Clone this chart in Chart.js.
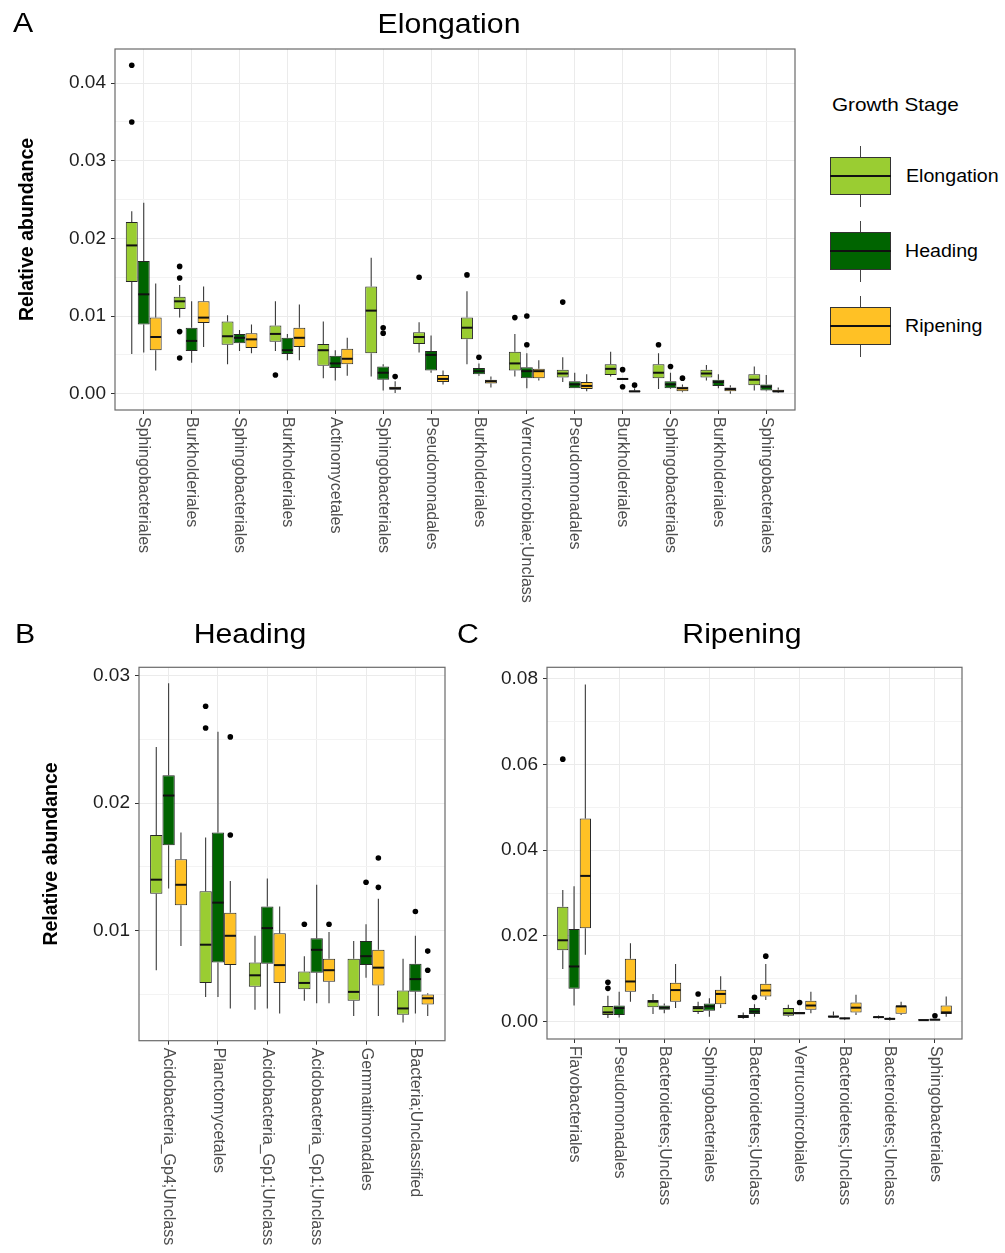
<!DOCTYPE html>
<html>
<head>
<meta charset="utf-8">
<script src="https://cdn.jsdelivr.net/npm/chart.js@4.4.1/dist/chart.umd.min.js"></script>
<style>
html, body { margin: 0; padding: 0; background: #fff; }
#page { position: relative; width: 1005px; height: 1253px; overflow: hidden; font-family: 'Liberation Sans', Arial, sans-serif; color: #000; background: #fff; }
canvas { position: absolute; }
.t { position: absolute; white-space: nowrap; line-height: 1; }
.c { text-align: center; width: 400px; transform: scaleX(1.12); transform-origin: center top; }
.l { transform: scaleX(1.12); transform-origin: left top; }
.key { position: absolute; box-sizing: border-box; }
</style>
</head>
<body>
<div id="page">
  <canvas id="cA" width="810" height="615" style="left:0px;top:0px;width:810px;height:615px"></canvas>
  <canvas id="cB" width="460" height="638" style="left:0px;top:615px;width:460px;height:638px"></canvas>
  <canvas id="cC" width="545" height="638" style="left:460px;top:615px;width:545px;height:638px"></canvas>

  <div class="t l" style="left:13px;top:10.1px;font-size:27px">A</div>
  <div class="t c" style="left:248.5px;top:10.6px;font-size:27px">Elongation</div>
  <div class="t l" style="left:15px;top:620.6px;font-size:27px">B</div>
  <div class="t c" style="left:49.5px;top:621px;font-size:27px">Heading</div>
  <div class="t l" style="left:457px;top:620.6px;font-size:27px">C</div>
  <div class="t c" style="left:542px;top:621px;font-size:27px">Ripening</div>

  <div class="t l" style="left:832px;top:96.3px;font-size:18.5px">Growth Stage</div>
  <div id="legend"></div>
</div>
<script>
const FONT = "'Liberation Sans', Arial, sans-serif";
const STAGES = ["Elongation", "Heading", "Ripening"];
const STAGE_COLORS = ["#9ACD32", "#006400", "#FFC125"];

// Each box: [lower whisker, Q1, median, Q3, upper whisker]
// ---------- Panel A : Elongation ----------
const categoriesA = ["Sphingobacteriales", "Burkholderiales", "Sphingobacteriales", "Burkholderiales",
  "Actinomycetales", "Sphingobacteriales", "Pseudomonadales", "Burkholderiales",
  "Verrucomicrobiae;Unclass", "Pseudomonadales", "Burkholderiales", "Sphingobacteriales",
  "Burkholderiales", "Sphingobacteriales"];
const elongationA = [
  [0.0051, 0.0144, 0.0191, 0.0221, 0.0235], [0.0098, 0.0109, 0.0119, 0.0125, 0.0140],
  [0.0038, 0.0063, 0.0074, 0.0093, 0.0101], [0.0055, 0.0067, 0.0077, 0.0088, 0.0119],
  [0.0020, 0.0036, 0.0056, 0.0064, 0.0093], [0.0022, 0.0052, 0.0107, 0.0138, 0.0175],
  [0.0053, 0.0064, 0.0073, 0.0079, 0.0092], [0.0038, 0.0070, 0.0085, 0.0098, 0.0132],
  [0.0022, 0.0030, 0.0039, 0.0054, 0.0077], [0.0015, 0.0021, 0.0026, 0.0031, 0.0047],
  [0.0022, 0.0024, 0.0032, 0.0038, 0.0054], [0.0006, 0.0020, 0.0027, 0.0038, 0.0052],
  [0.0017, 0.0021, 0.0026, 0.0031, 0.0037], [0.0004, 0.0011, 0.0018, 0.0025, 0.0035]];
const headingA = [
  [0.0053, 0.0089, 0.0128, 0.0171, 0.0246], [0.0040, 0.0055, 0.0068, 0.0085, 0.0119],
  [0.0055, 0.0065, 0.0072, 0.0077, 0.0082], [0.0043, 0.0051, 0.0056, 0.0072, 0.0077],
  [0.0017, 0.0033, 0.0039, 0.0049, 0.0056], [0.0004, 0.0018, 0.0027, 0.0035, 0.0038],
  [0.0027, 0.0030, 0.0050, 0.0055, 0.0075], [0.0023, 0.0025, 0.0029, 0.0033, 0.0039],
  [0.0007, 0.0020, 0.0029, 0.0034, 0.0052], [0.0007, 0.0007, 0.0012, 0.0016, 0.0027],
  [0.0018, 0.0018, 0.0019, 0.0020, 0.0020], [0.0006, 0.0007, 0.0012, 0.0016, 0.0027],
  [0.0007, 0.0010, 0.0015, 0.0018, 0.0025], [0.0003, 0.0004, 0.0009, 0.0012, 0.0024]];
const ripeningA = [
  [0.0030, 0.0056, 0.0073, 0.0098, 0.0142], [0.0060, 0.0091, 0.0098, 0.0119, 0.0138],
  [0.0052, 0.0059, 0.0070, 0.0078, 0.0089], [0.0043, 0.0060, 0.0072, 0.0085, 0.0115],
  [0.0023, 0.0038, 0.0045, 0.0058, 0.0072], [0.0001, 0.0005, 0.0007, 0.0009, 0.0016],
  [0.0012, 0.0015, 0.0019, 0.0024, 0.0030], [0.0008, 0.0013, 0.0016, 0.0018, 0.0022],
  [0.0017, 0.0020, 0.0029, 0.0032, 0.0043], [0.0003, 0.0006, 0.0010, 0.0015, 0.0025],
  [0.0002, 0.0002, 0.0003, 0.0004, 0.0007], [0.0002, 0.0003, 0.0007, 0.0009, 0.0012],
  [0.0000, 0.0003, 0.0006, 0.0008, 0.0011], [0.0001, 0.0002, 0.0003, 0.0005, 0.0008]];
const outElongationA = [[0.0423, 0.0350], [0.0164, 0.0149, 0.0080, 0.0046], [], [0.0024], [], [],
  [0.0150], [0.0153], [0.0098], [0.0118], [], [0.0063], [], []];
const outHeadingA = [[], [], [], [], [], [0.0085, 0.0078], [], [0.0047], [0.0100, 0.0063], [],
  [0.0031, 0.0009], [0.0035], [], []];
const outRipeningA = [[], [], [], [], [], [0.0022], [], [], [], [], [0.0011], [0.0020], [], []];
const yMajorA = [0.00, 0.01, 0.02, 0.03, 0.04];
const yMinorA = [0.005, 0.015, 0.025, 0.035];
const yRangeA = [-0.0021, 0.0444];

// ---------- Panel B : Heading ----------
const categoriesB = ["Acidobacteria_Gp4;Unclass", "Planctomycetales", "Acidobacteria_Gp1;Unclass",
  "Acidobacteria_Gp1;Unclass", "Gemmatimonadales", "Bacteria;Unclassified"];
const elongationB = [
  [0.0069, 0.0129, 0.0140, 0.0175, 0.0244], [0.0048, 0.0059, 0.0089, 0.0131, 0.0173],
  [0.0038, 0.0056, 0.0065, 0.0075, 0.0096], [0.0045, 0.0054, 0.0059, 0.0068, 0.0080],
  [0.0033, 0.0045, 0.0052, 0.0078, 0.0092], [0.0028, 0.0034, 0.0039, 0.0053, 0.0078]];
const headingB = [
  [0.0133, 0.0167, 0.0206, 0.0222, 0.0294], [0.0048, 0.0075, 0.0122, 0.0177, 0.0256],
  [0.0039, 0.0074, 0.0102, 0.0119, 0.0141], [0.0043, 0.0067, 0.0085, 0.0094, 0.0136],
  [0.0063, 0.0073, 0.0080, 0.0092, 0.0105], [0.0035, 0.0052, 0.0062, 0.0074, 0.0096]];
const ripeningB = [
  [0.0088, 0.0120, 0.0136, 0.0156, 0.0177], [0.0039, 0.0073, 0.0096, 0.0114, 0.0139],
  [0.0035, 0.0059, 0.0073, 0.0098, 0.0119], [0.0043, 0.0060, 0.0069, 0.0078, 0.0099],
  [0.0033, 0.0057, 0.0071, 0.0085, 0.0125], [0.0033, 0.0042, 0.0047, 0.0050, 0.0051]];
const outElongationB = [[], [0.0276, 0.0259], [], [0.0105], [], []];
const outHeadingB = [[], [], [], [], [0.0138], [0.0115]];
const outRipeningB = [[], [0.0252, 0.0175], [], [0.0105], [0.0157, 0.0134], [0.0084, 0.0069]];
const yMajorB = [0.01, 0.02, 0.03];
const yMinorB = [0.005, 0.015, 0.025];
const yRangeB = [0.00137, 0.03066];

// ---------- Panel C : Ripening ----------
const categoriesC = ["Flavobacteriales", "Pseudomonadales", "Bacteroidetes;Unclass", "Sphingobacteriales",
  "Bacteroidetes;Unclass", "Verrucomicrobiales", "Bacteroidetes;Unclass", "Bacteroidetes;Unclass",
  "Sphingobacteriales"];
const elongationC = [
  [0.0123, 0.0167, 0.0190, 0.0268, 0.0307], [0.0009, 0.0016, 0.0022, 0.0037, 0.0061],
  [0.0018, 0.0034, 0.0047, 0.0051, 0.0065], [0.0018, 0.0023, 0.0032, 0.0037, 0.0047],
  [0.0007, 0.0009, 0.0012, 0.0016, 0.0022], [0.0012, 0.0014, 0.0020, 0.0032, 0.0040],
  [0.0009, 0.0010, 0.0012, 0.0015, 0.0024], [0.0008, 0.0009, 0.0011, 0.0013, 0.0015],
  [0.0002, 0.0003, 0.0004, 0.0006, 0.0006]];
const headingC = [
  [0.0038, 0.0077, 0.0129, 0.0216, 0.0316], [0.0010, 0.0016, 0.0032, 0.0038, 0.0070],
  [0.0020, 0.0028, 0.0033, 0.0038, 0.0043], [0.0012, 0.0026, 0.0036, 0.0043, 0.0055],
  [0.0012, 0.0018, 0.0024, 0.0032, 0.0041], [0.0018, 0.0018, 0.0020, 0.0023, 0.0023],
  [0.0005, 0.0007, 0.0008, 0.0010, 0.0011], [0.0003, 0.0005, 0.0007, 0.0009, 0.0011],
  [0.0003, 0.0003, 0.0005, 0.0006, 0.0006]];
const ripeningC = [
  [0.0156, 0.0218, 0.0340, 0.0474, 0.0786], [0.0047, 0.0070, 0.0094, 0.0147, 0.0183],
  [0.0032, 0.0047, 0.0074, 0.0091, 0.0135], [0.0032, 0.0041, 0.0065, 0.0075, 0.0106],
  [0.0051, 0.0059, 0.0073, 0.0089, 0.0135], [0.0020, 0.0028, 0.0038, 0.0049, 0.0070],
  [0.0016, 0.0022, 0.0033, 0.0045, 0.0063], [0.0016, 0.0019, 0.0036, 0.0038, 0.0047],
  [0.0012, 0.0018, 0.0022, 0.0038, 0.0059]];
const outElongationC = [[0.0612], [0.0092, 0.0078], [], [0.0065], [], [], [], [], []];
const outHeadingC = [[], [], [], [], [0.0057], [0.0045], [], [], [0.0014]];
const outRipeningC = [[], [], [], [], [0.0153], [], [], [], []];
const yMajorC = [0.00, 0.02, 0.04, 0.06, 0.08];
const yMinorC = [0.01, 0.03, 0.05, 0.07];
const yRangeC = [-0.0040, 0.0826];

// ---------- legend (HTML) ----------
(function buildLegend() {
  const host = document.getElementById('legend');
  const boxTops = [157, 232, 307];
  const labelTops = [168.2, 243.2, 318.2];
  STAGES.forEach((name, k) => {
    const top = boxTops[k];
    host.insertAdjacentHTML('beforeend',
      `<div class="key" style="left:860px;top:${top - 11}px;width:1.2px;height:11px;background:#444"></div>` +
      `<div class="key" style="left:860px;top:${top + 38}px;width:1.2px;height:12px;background:#444"></div>` +
      `<div class="key" style="left:830px;top:${top}px;width:61px;height:38px;background:${STAGE_COLORS[k]};border:1px solid #333"></div>` +
      `<div class="key" style="left:830px;top:${top + 18.3}px;width:61px;height:1.6px;background:#111"></div>` +
      `<div class="t l" style="left:${k === 0 ? 906 : 905}px;top:${labelTops[k]}px;font-size:17.5px">${name}</div>`);
  });
})();

function makePanel(id, p) {
  const n = p.categories.length;
  const allTicks = p.yMajor.concat(p.yMinor).sort((a, b) => a - b);
  const isMajor = v => p.yMajor.some(m => Math.abs(m - v) < 1e-9);
  const stageStats = [p.elongation, p.heading, p.ripening];
  const datasets = stageStats.map((stats, k) => ({
    label: STAGES[k],
    data: stats.map((s, i) => ({ x: i, y: [s[1], s[3]] })),
    stats: stats,
    outliers: p.outliers[k],
    backgroundColor: STAGE_COLORS[k],
    borderColor: '#262626',
    borderWidth: 1,
    borderSkipped: false,
    inflateAmount: 0,
    categoryPercentage: 0.75,
    barPercentage: 1.0
  }));

  const boxPlugin = {
    id: 'boxplot_' + id,
    beforeDatasetsDraw(chart) {
      const ctx = chart.ctx, ys = chart.scales.y;
      ctx.save();
      ctx.strokeStyle = '#3a3a3a';
      ctx.lineWidth = 1.1;
      chart.data.datasets.forEach((ds, di) => {
        chart.getDatasetMeta(di).data.forEach((el, i) => {
          const s = ds.stats[i];
          ctx.beginPath();
          ctx.moveTo(el.x, ys.getPixelForValue(s[3]));
          ctx.lineTo(el.x, ys.getPixelForValue(s[4]));
          ctx.moveTo(el.x, ys.getPixelForValue(s[1]));
          ctx.lineTo(el.x, ys.getPixelForValue(s[0]));
          ctx.stroke();
        });
      });
      ctx.restore();
    },
    afterDatasetsDraw(chart) {
      const ctx = chart.ctx, ys = chart.scales.y;
      ctx.save();
      chart.data.datasets.forEach((ds, di) => {
        chart.getDatasetMeta(di).data.forEach((el, i) => {
          const s = ds.stats[i];
          const ym = ys.getPixelForValue(s[2]);
          ctx.strokeStyle = '#111';
          ctx.lineWidth = 2;
          ctx.beginPath();
          ctx.moveTo(el.x - el.width / 2 + 0.5, ym);
          ctx.lineTo(el.x + el.width / 2 - 0.5, ym);
          ctx.stroke();
          ctx.fillStyle = '#000';
          (ds.outliers[i] || []).forEach(v => {
            ctx.beginPath();
            ctx.arc(el.x, ys.getPixelForValue(v), 2.8, 0, Math.PI * 2);
            ctx.fill();
          });
        });
      });
      ctx.restore();
    },
    afterDraw(chart) {
      const ctx = chart.ctx, a = chart.chartArea, xs = chart.scales.x;
      ctx.save();
      ctx.strokeStyle = '#6a6a6a';
      ctx.lineWidth = 1.2;
      ctx.strokeRect(a.left, a.top, a.right - a.left, a.bottom - a.top);
      ctx.fillStyle = '#4d4d4d';
      ctx.font = '16px ' + FONT;
      ctx.textAlign = 'left';
      ctx.textBaseline = 'middle';
      p.categories.forEach((lab, i) => {
        const x = xs.getPixelForValue(i);
        ctx.save();
        ctx.translate(x, a.bottom + 7);
        ctx.rotate(Math.PI / 2);
        ctx.fillText(lab, 0, 0);
        ctx.restore();
      });
      ctx.restore();
    }
  };

  return new Chart(document.getElementById(id), {
    type: 'bar',
    data: { datasets },
    options: {
      responsive: false,
      animation: false,
      devicePixelRatio: 1,
      layout: { padding: { top: p.padTop, right: p.padRight, left: 0, bottom: 0 } },
      plugins: { legend: { display: false }, tooltip: { enabled: false } },
      scales: {
        x: {
          type: 'linear', min: -0.6, max: n - 0.4, offset: false,
          grid: { color: '#ebebeb', lineWidth: 1, offset: false, drawTicks: true, tickLength: 4, tickColor: '#333' },
          border: { display: false },
          ticks: { display: false },
          afterBuildTicks: s => { s.ticks = p.categories.map((_, i) => ({ value: i })); },
          afterFit: s => { s.height = p.xHeight; }
        },
        y: {
          type: 'linear', min: p.yRange[0], max: p.yRange[1],
          grid: {
            color: c => (c.tick && !isMajor(c.tick.value)) ? '#f3f3f3' : '#ebebeb',
            tickColor: c => (c.tick && !isMajor(c.tick.value)) ? 'rgba(0,0,0,0)' : '#333',
            lineWidth: 1, drawTicks: true, tickLength: 4
          },
          border: { display: false },
          ticks: {
            autoSkip: false, padding: 5, color: '#1e1e1e',
            font: { family: FONT, size: 19 },
            callback: v => isMajor(v) ? v.toFixed(2) : ''
          },
          afterBuildTicks: s => { s.ticks = allTicks.map(v => ({ value: v })); },
          afterFit: s => { s.width = p.yWidth; },
          title: p.titlePad == null ? { display: false } : {
            display: true, text: 'Relative abundance', color: '#000',
            font: { family: FONT, size: 19.5, weight: 'bold' },
            padding: { top: p.titlePad, bottom: 0 }
          }
        }
      }
    },
    plugins: [boxPlugin]
  });
}

makePanel('cA', {
  categories: categoriesA, elongation: elongationA, heading: headingA, ripening: ripeningA,
  outliers: [outElongationA, outHeadingA, outRipeningA],
  yMajor: yMajorA, yMinor: yMinorA, yRange: yRangeA,
  padTop: 49, padRight: 15, yWidth: 115, xHeight: 205, titlePad: 16.3
});
makePanel('cB', {
  categories: categoriesB, elongation: elongationB, heading: headingB, ripening: ripeningB,
  outliers: [outElongationB, outHeadingB, outRipeningB],
  yMajor: yMajorB, yMinor: yMinorB, yRange: yRangeB,
  padTop: 52.3, padRight: 15, yWidth: 139, xHeight: 212.3, titlePad: 40.3
});
makePanel('cC', {
  categories: categoriesC, elongation: elongationC, heading: headingC, ripening: ripeningC,
  outliers: [outElongationC, outHeadingC, outRipeningC],
  yMajor: yMajorC, yMinor: yMinorC, yRange: yRangeC,
  padTop: 52.3, padRight: 43, yWidth: 87, xHeight: 214, titlePad: null
});
</script>
</body>
</html>
